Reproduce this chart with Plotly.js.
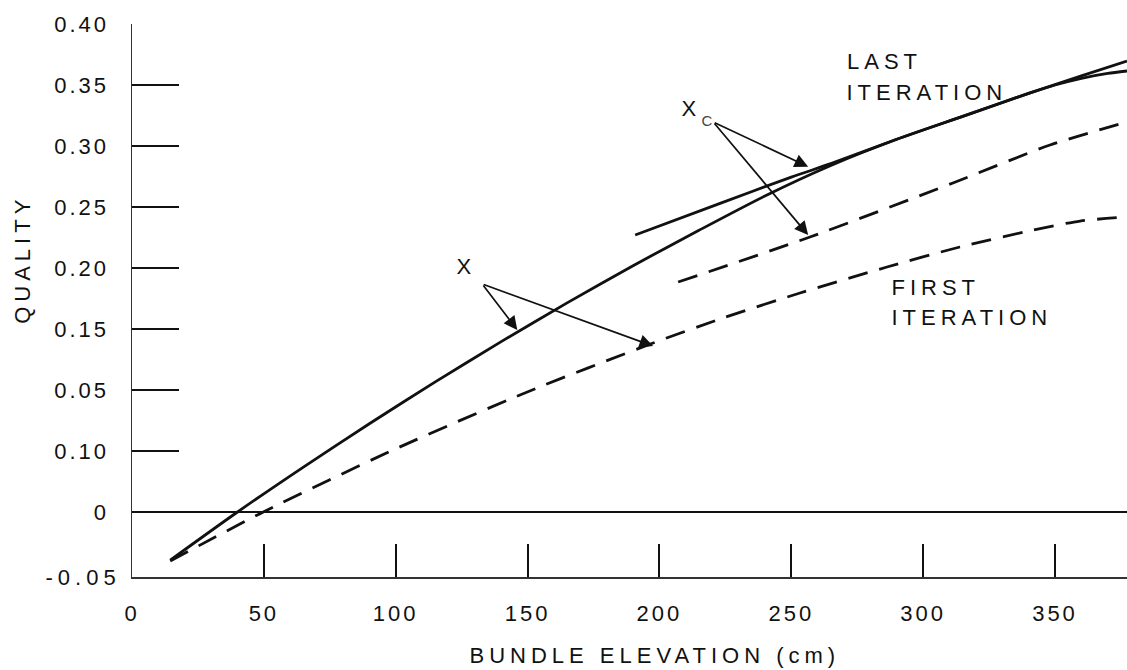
<!DOCTYPE html>
<html>
<head>
<meta charset="utf-8">
<script src="https://cdn.plot.ly/plotly-3.0.1.min.js"></script>
<style>
html,body{margin:0;padding:0;background:#fff;}
#chart{width:1127px;height:670px;}
.main-svg .xtick text, .main-svg .ytick text{letter-spacing:3px;}
.main-svg .annotation-text{letter-spacing:5px;}
</style>
</head>
<body>
<div id="chart"></div>
<script>
// Quality X, last iteration (solid)
const xLastX = [14.5, 40, 65, 90, 115, 140, 165, 190, 215, 240, 265, 290, 315, 340, 360, 377.3];
const xLastY = [-0.0395, 0.0, 0.0368, 0.0723, 0.1066, 0.1396, 0.1714, 0.2019, 0.2309, 0.2590, 0.2840, 0.3055, 0.3243, 0.3431, 0.3575, 0.3696];
// Critical quality Xc, last iteration (solid)
const xcLastX = [190.8, 223, 250, 265, 290, 315, 340, 350, 360, 370, 377.3];
const xcLastY = [0.227, 0.2530, 0.2745, 0.2855, 0.3055, 0.3243, 0.3431, 0.3500, 0.3555, 0.3595, 0.3615];
// Critical quality Xc, first iteration (dashed)
const xcFirstX = [207.1, 257.1, 311.3, 348.1, 377.3];
const xcFirstY = [0.1885, 0.2254, 0.2697, 0.3008, 0.3197];
// Quality X, first iteration (dashed)
const xFirstX = [14.5, 49.8, 99.0, 149.9, 197.6, 223.0, 253.3, 286.3, 313.9, 341.7, 359.5, 377.3];
const xFirstY = [-0.0402, 0.0, 0.0508, 0.0984, 0.1385, 0.1582, 0.1795, 0.2008, 0.2172, 0.2311, 0.2385, 0.2418];

// Axis ticks (labels exactly as printed on the original figure)
const xTickVals = [0, 50, 100, 150, 200, 250, 300, 350];
const xTickText = ["0", "50", "100", "150", "200", "250", "300", "350"];
const yTickVals = [0, 0.05, 0.10, 0.15, 0.20, 0.25, 0.30, 0.35, 0.40];
const yTickText = ["0", "0.10", "0.05", "0.15", "0.20", "0.25", "0.30", "0.35", "0.40"];
const yBottomLabel = "-0.05";

const FONT = "Liberation Sans, Arial, sans-serif";
const INK = "#111";
const FS = 22;

const solid = {color: INK, width: 2.8, shape: "spline", smoothing: 0.7};
const dashed = {color: INK, width: 2.8, dash: "20px,12px", shape: "spline", smoothing: 0.7};

const traces = [
  {x: xLastX, y: xLastY, mode: "lines", line: solid, hoverinfo: "skip"},
  {x: xcLastX, y: xcLastY, mode: "lines", line: solid, hoverinfo: "skip"},
  {x: xcFirstX, y: xcFirstY, mode: "lines", line: dashed, hoverinfo: "skip"},
  {x: xFirstX, y: xFirstY, mode: "lines", line: dashed, hoverinfo: "skip"}
];

function txt(x, y, text) {
  return {x: x, y: y, xref: "x", yref: "y", text: text, showarrow: false,
          xanchor: "center", yanchor: "middle",
          font: {family: FONT, size: FS, color: INK}};
}
function arrow(tx, ty, hx, hy) {
  return {x: hx, y: hy, ax: tx, ay: ty, xref: "x", yref: "y", axref: "x", ayref: "y",
          text: "", showarrow: true, arrowhead: 2, arrowsize: 1.6, arrowwidth: 1.7,
          arrowcolor: INK, standoff: 0, startstandoff: 0};
}

const PLOT_H = 577 - 24;
const annotations = [
  txt(285.2, 0.369, "LAST"),
  txt(301.5, 0.3435, "ITERATION"),
  txt(304.9, 0.1840, "FIRST"),
  txt(318.7, 0.1594, "ITERATION"),
  txt(127.0, 0.2011, "X"),
  txt(212.2, 0.3307, "X"),
  {x: 219.0, y: 0.3205, xref: "x", yref: "y", text: "C", showarrow: false,
   xanchor: "center", yanchor: "middle", font: {family: FONT, size: 15, color: "#444"}},
  arrow(132.8, 0.1869, 146.1, 0.1492),
  arrow(132.8, 0.1869, 197.6, 0.136),
  arrow(220.4, 0.3197, 256.4, 0.283),
  arrow(220.4, 0.3197, 256.4, 0.227),
  {x: 0.526, y: (577 - 655) / PLOT_H, xref: "paper", yref: "paper", text: "BUNDLE ELEVATION (cm)",
   showarrow: false, xanchor: "center", yanchor: "middle",
   font: {family: FONT, size: FS, color: INK}},
  {x: (22 - 131.7) / 995.3, y: (577 - 259) / PLOT_H, xref: "paper", yref: "paper", text: "QUALITY", textangle: -90,
   showarrow: false, xanchor: "center", yanchor: "middle",
   font: {family: FONT, size: FS, color: INK}},
  {x: (110 - 131.7) / 995.3, y: 0, xref: "paper", yref: "paper", text: yBottomLabel,
   showarrow: false, xanchor: "right", yanchor: "middle",
   font: {family: FONT, size: FS, color: INK}}
];

const layout = {
  width: 1127, height: 670,
  margin: {l: 131.7, r: 0, t: 24, b: 93, pad: 0},
  paper_bgcolor: "#fff", plot_bgcolor: "#fff",
  showlegend: false,
  font: {family: FONT, size: FS, color: INK},
  xaxis: {
    range: [0, 377.3], tickvals: xTickVals, ticktext: xTickText,
    ticks: "inside", ticklen: 33, tickwidth: 2, tickcolor: INK,
    showline: true, linecolor: "#333", linewidth: 1.5,
    showgrid: false, zeroline: false, ticklabelstandoff: 16,
    tickfont: {family: FONT, size: FS, color: INK}
  },
  yaxis: {
    range: [-0.0533, 0.40], tickvals: yTickVals, ticktext: yTickText,
    ticks: "inside", ticklen: 47, tickwidth: 1.5, tickcolor: INK,
    showline: true, linecolor: "#333", linewidth: 1.5,
    showgrid: false, zeroline: true, zerolinecolor: INK, zerolinewidth: 1.6,
    ticklabelstandoff: 17,
    tickfont: {family: FONT, size: FS, color: INK}
  },
  annotations: annotations
};

Plotly.newPlot("chart", traces, layout, {staticPlot: true, displayModeBar: false});
</script>
</body>
</html>
